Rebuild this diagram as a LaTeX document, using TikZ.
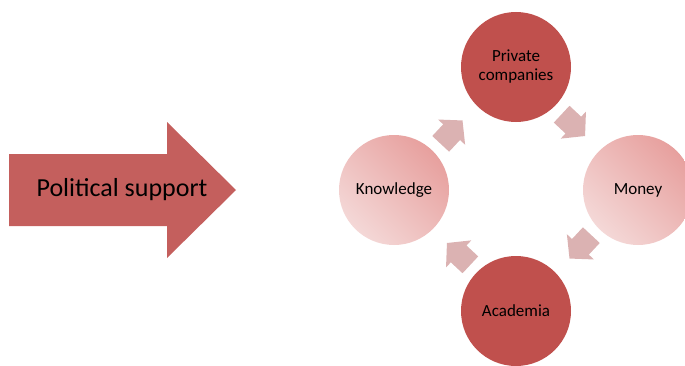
\documentclass[tikz,border=0pt]{standalone}
\usepackage{fontspec}
\setmainfont{Carlito}
\usepackage{tikz}
\usetikzlibrary{positioning,calc}
\usepackage{xcolor}
\definecolor{psred}{RGB}{196,95,93}
\definecolor{cydark}{RGB}{192,80,77}
\definecolor{cylight}{RGB}{244,216,215}
\definecolor{cymid}{RGB}{231,160,158}
\definecolor{cyarrow}{RGB}{219,178,178}
\tikzstyle{darkcircle} = [circle, minimum size=110pt, inner sep=0pt, fill=cydark, align=center, font=\fontsize{17}{19}\selectfont]
\tikzstyle{lightcircle} = [circle, minimum size=110pt, inner sep=0pt, top color=cymid, bottom color=cylight, shading angle=-45, align=center, font=\fontsize{17}{19}\selectfont]
\tikzset{cyclearrow/.pic={
  \fill[cyarrow] (-21,-11.5) -- (-5,-11.5) -- (-5,-18.5) -- (11,0) -- (-5,18.5) -- (-5,11.5) -- (-21,11.5) -- cycle;
}}

\begin{document}
\begin{tikzpicture}[x=1pt, y=1pt]
\clip (0,0) rectangle (685,365);

% Big arrow on the left
\fill[psred] (9,139) -- (167,139) -- (167,107) -- (236,175) -- (167,243) -- (167,211) -- (9,211) -- cycle;
\node (support) at (122,175) {\fontsize{26}{31}\selectfont Political support};

% The four circles
\node (know) [lightcircle] at (394,175) {Knowledge};
\node (money) [lightcircle, right of=know, node distance=244pt] {Money};
\coordinate (mid) at ($(know)!0.5!(money)$);
\node (priv) [darkcircle, above of=mid, node distance=123pt] {Private\\companies};
\node (acad) [darkcircle, below of=mid, node distance=121pt] {Academia};

% Cycle arrows
\pic[rotate=47] at ($(know)!0.5!(priv)$) {cyclearrow};
\pic[rotate=-43] at ($(priv)!0.5!(money)$) {cyclearrow};
\pic[rotate=-133] at ($(money)!0.5!(acad)$) {cyclearrow};
\pic[rotate=137] at ($(acad)!0.5!(know)$) {cyclearrow};
\end{tikzpicture}
\end{document}
